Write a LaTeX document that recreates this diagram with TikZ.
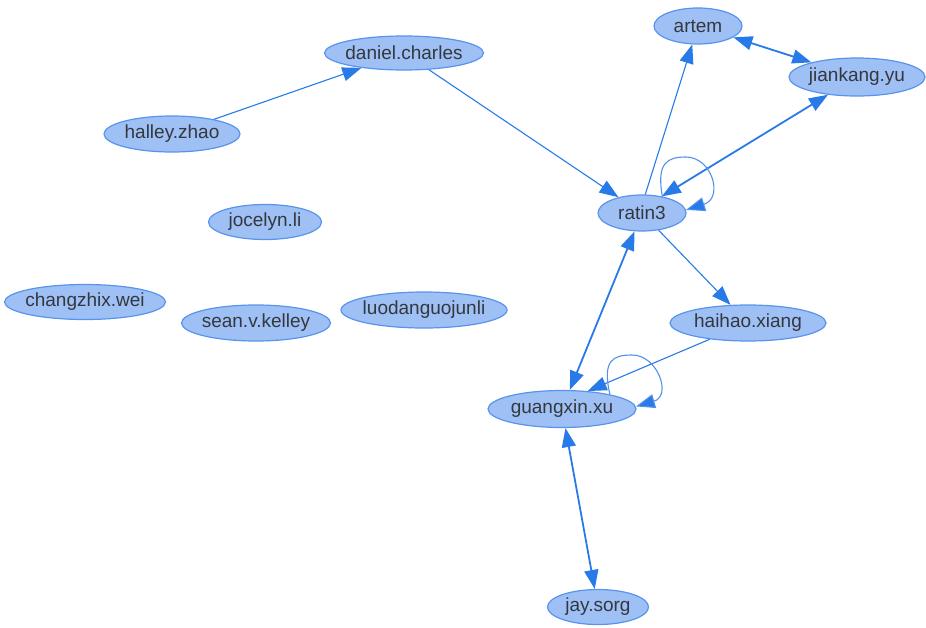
\documentclass[tikz,border=0pt]{standalone}
\usepackage{fontspec}
\setmainfont{Liberation Sans}
\usetikzlibrary{shapes.geometric,arrows.meta}

\definecolor{nodefill}{RGB}{158,192,245}
\definecolor{nodeline}{RGB}{88,148,236}
\definecolor{edgeblue}{RGB}{40,122,232}
\definecolor{loopblue}{RGB}{80,146,236}
\definecolor{labeltext}{RGB}{52,56,62}

\newcommand{\nodetext}[1]{\makebox[0pt][c]{#1}}

\tikzset{
  person/.style 2 args={ellipse, draw=nodeline, line width=1.2pt, fill=nodefill,
    inner sep=0pt, minimum width=#1pt, minimum height=#2pt,
    text=labeltext, font=\fontsize{19}{22}\selectfont},
  oneway/.style={draw=edgeblue, line width=1.1pt, -{Triangle[length=19pt,width=14pt]}},
  twoway/.style={draw=edgeblue, line width=1.8pt, {Triangle[length=19pt,width=14pt]}-{Triangle[length=19pt,width=14pt]}},
  selfloop/.style={draw=loopblue, line width=1.1pt, -{Triangle[length=19pt,width=14pt,fill=edgeblue]}},
}

\begin{document}
\begin{tikzpicture}[x=1pt,y=-1pt]
\useasboundingbox (0,0) rectangle (926,627);

% people
\node[person={88}{36}]  (artem)    at (698,26)  {\nodetext{artem}};
\node[person={159}{34}] (daniel)   at (404,53)  {\nodetext{daniel.charles}};
\node[person={136}{38}] (jiankang) at (857,77)  {\nodetext{jiankang.yu}};
\node[person={136}{36}] (halley)   at (172,134) {\nodetext{halley.zhao}};
\node[person={88}{36}]  (ratin)    at (642,213) {\nodetext{ratin3}};
\node[person={113}{35}] (jocelyn)  at (265,222) {\nodetext{jocelyn.li}};
\node[person={161}{35}] (changzhix) at (85,302) {\nodetext{changzhix.wei}};
\node[person={149}{36}] (sean)     at (256,323) {\nodetext{sean.v.kelley}};
\node[person={166}{36}] (luodan)   at (424,310) {\nodetext{luodanguojunli}};
\node[person={156}{36}] (haihao)   at (748,323) {\nodetext{haihao.xiang}};
\node[person={148}{37}] (guangxin) at (562,409) {\nodetext{guangxin.xu}};
\node[person={101}{35}] (jay)      at (598,607) {\nodetext{jay.sorg}};

% one-way links
\draw[oneway] (halley) -- (daniel);
\draw[oneway] (daniel) -- (ratin);
\draw[oneway] (ratin.80) -- (artem);
\draw[oneway] (ratin) -- (haihao);
\draw[oneway] (haihao) -- (guangxin.35);

% two-way links
\draw[twoway] (artem) -- (jiankang);
\draw[twoway] (jiankang) -- (ratin.40);
\draw[twoway] (ratin) -- (guangxin);
\draw[twoway] (guangxin) -- (jay);

% self references: round loops closing back onto the right end of the node
\draw[selfloop] (ratin.39) .. controls (656,162) and (668,157) .. (686,157)
  .. controls (712,157) and (724,198) .. (ratin.4);
\draw[selfloop] (guangxin.17) .. controls (602,360) and (613,355) .. (632,355)
  .. controls (658,355) and (672,396) .. (guangxin.2);
\end{tikzpicture}
\end{document}
